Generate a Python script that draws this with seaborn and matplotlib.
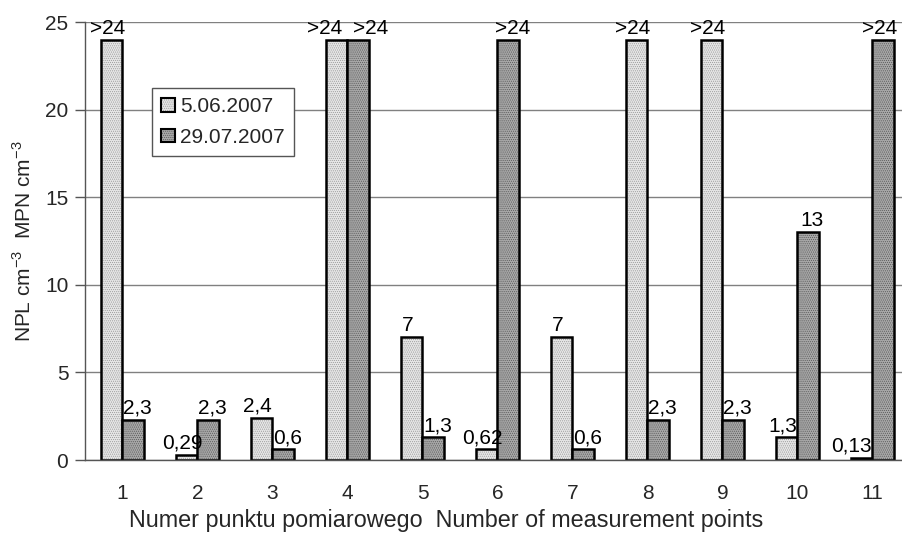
import matplotlib
matplotlib.use("Agg")
import matplotlib.pyplot as plt
import seaborn as sns
import pandas as pd
import numpy as np

# measurement points and the two sampling dates
points = [str(i) for i in range(1, 12)]
dates = ["5.06.2007", "29.07.2007"]
june = [24, 0.29, 2.4, 24, 7, 0.62, 7, 24, 24, 1.3, 0.13]
july = [2.3, 2.3, 0.6, 24, 1.3, 24, 0.6, 2.3, 2.3, 13, 24]
june_labels = [">24", "0,29", "2,4", ">24", "7", "0,62", "7", ">24", ">24", "1,3", "0,13"]
july_labels = ["2,3", "2,3", "0,6", ">24", "1,3", ">24", "0,6", "2,3", "2,3", "13", ">24"]

df = pd.DataFrame({
    "point": points * 2,
    "date": [dates[0]] * len(points) + [dates[1]] * len(points),
    "value": june + july,
})

sns.set_style("white")
plt.rcParams["font.family"] = ["Liberation Sans", "DejaVu Sans"]
plt.rcParams["hatch.linewidth"] = 0.5
fs = 15

fig = plt.figure(figsize=(9.03, 5.36), dpi=100)
ax = fig.add_axes([85 / 903, 76 / 536, 825 / 903, 438 / 536])

colors = ["#e6e6e6", "#a8a8a8"]
hatch_cols = ["#9a9a9a", "#5a5a5a"]
sns.barplot(data=df, x="point", y="value", hue="date", order=points,
            hue_order=dates, palette=colors, width=0.58, ax=ax,
            edgecolor="black", linewidth=1.8, saturation=1, legend=True)

# fine dotted texture like the original (hatch in grey, outline black)
for bars, hc in zip(ax.containers, hatch_cols):
    for p in bars:
        p.set_hatch("........")
        p._hatch_color = matplotlib.colors.to_rgba(hc)

# value labels above bars; nudged sideways a little like the original
n = len(points)
nudge = [-4, 4]
extra = {(0, 3): -8, (1, 3): 8, (0, 10): -6, (1, 10): -8}
for k, (bars, labs) in enumerate(zip(ax.containers, [june_labels, july_labels])):
    for i, (rect, lab) in enumerate(zip(bars, labs)):
        x = rect.get_x() + rect.get_width() / 2
        dx = nudge[k] + extra.get((k, i), 0)
        ax.annotate(lab, (x, rect.get_height()), xytext=(dx, 2),
                    textcoords="offset pixels", ha="center", va="bottom",
                    fontsize=fs, color="black", annotation_clip=False)

ax.set_ylim(0, 25)
ax.set_xlim(-0.5, n - 0.5)
ax.set_yticks(np.arange(0, 26, 5))
ax.yaxis.grid(True, color="#808080", linewidth=1)
ax.set_axisbelow(True)

# ticks between groups, labels at centres
ax.set_xticks(np.arange(-0.5, n, 1), minor=True)
ax.tick_params(axis="x", which="major", length=0, labelsize=fs, pad=17)
ax.tick_params(axis="x", which="minor", length=6, width=1, color="#555555", direction="out")
ax.tick_params(axis="y", length=7, width=1, color="#555555", labelsize=fs, left=True,
               direction="out", pad=5)

for s in ["top", "right"]:
    ax.spines[s].set_visible(False)
for s in ["left", "bottom"]:
    ax.spines[s].set_color("#555555")
    ax.spines[s].set_linewidth(1)

ax.set_ylabel("NPL cm$^{\\mathregular{-3}}$  MPN cm$^{\\mathregular{-3}}$", fontsize=fs, labelpad=7)
ax.set_xlabel("Numer punktu pomiarowego  Number of measurement points", fontsize=16.8)
ax.xaxis.set_label_coords(361 / 825, -49 / 438)

# legend handles share the hatch of the bars
leg = ax.legend(loc="upper left", bbox_to_anchor=(67 / 825, 372 / 438), fontsize=fs,
                frameon=True, fancybox=False, edgecolor="#555555", framealpha=1,
                handlelength=0.65, handleheight=0.65, handletextpad=0.25,
                labelspacing=0.55, borderpad=0.45, borderaxespad=0, title=None)
leg.get_frame().set_linewidth(1)
for h, hc in zip(leg.legend_handles, hatch_cols):
    h.set_hatch("........")
    h._hatch_color = matplotlib.colors.to_rgba(hc)
    h.set_linewidth(1.5)

fig.savefig("out.png", dpi=100)
